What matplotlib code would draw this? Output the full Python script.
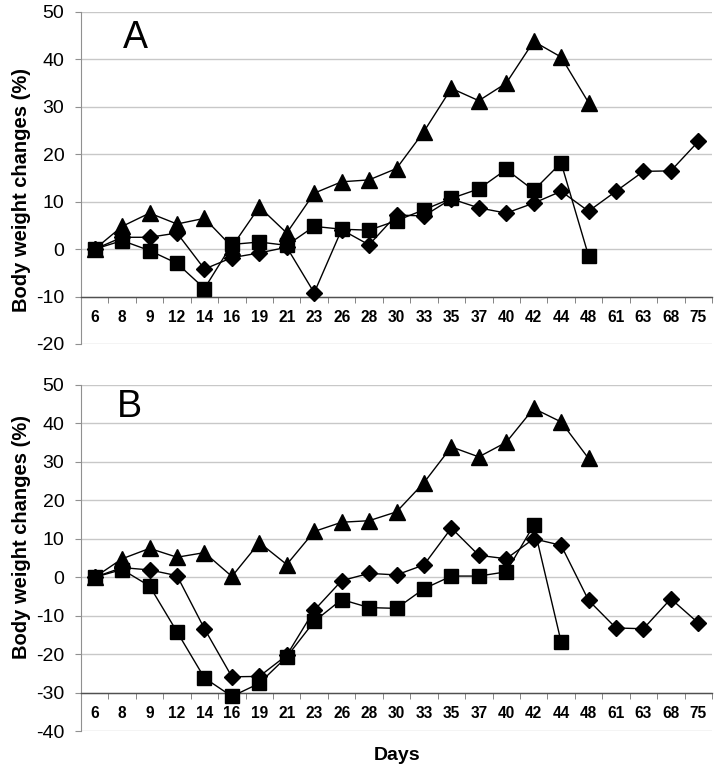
import numpy as np
import matplotlib
matplotlib.use("Agg")
import matplotlib.pyplot as plt

plt.rcParams["font.family"] = ["Liberation Sans", "DejaVu Sans"]
plt.rcParams["axes.unicode_minus"] = False

days = ["6", "8", "9", "12", "14", "16", "19", "21", "23", "26", "28", "30",
        "33", "35", "37", "40", "42", "44", "48", "61", "63", "68", "75"]

# panel A
a_diamond = [0, 2.5, 2.5, 3.4, -4.2, -1.8, -0.8, 0.4, -9.2, 4.1, 0.9, 7.2,
             7.0, 10.6, 8.7, 7.6, 9.7, 12.2, 8.0, 12.2, 16.4, 16.5, 22.7]
a_square = [0, 1.8, -0.3, -3.0, -8.3, 1.0, 1.5, 0.8, 4.8, 4.2, 4.0, 6.0,
            8.3, 10.7, 12.7, 16.8, 12.4, 18.2, -1.4]
a_triangle = [0, 4.8, 7.6, 5.3, 6.5, 0.5, 8.9, 3.4, 11.8, 14.2, 14.6, 17.0,
              24.8, 33.9, 31.3, 35.0, 43.8, 40.5, 30.9]

# panel B
b_diamond = [0, 2.5, 1.9, 0.4, -13.4, -25.9, -25.8, -20.3, -8.6, -0.9, 1.0, 0.6,
             3.2, 12.8, 5.7, 4.8, 10.0, 8.3, -6.0, -13.2, -13.4, -5.6, -11.9]
b_square = [0, 2.0, -2.3, -14.2, -26.2, -31.0, -27.6, -20.7, -11.5, -5.8, -7.9, -8.1,
            -3.0, 0.3, 0.3, 1.4, 13.5, -16.8]
b_triangle = [0, 4.8, 7.5, 5.2, 6.4, 0.2, 9.0, 3.3, 11.9, 14.3, 14.7, 17.0,
              24.6, 33.9, 31.3, 35.1, 43.9, 40.4, 30.9]

fig = plt.figure(figsize=(7.17, 7.71), dpi=100)
W, H = 717, 771


def make_panel(rect, ymin, ycross, diamond, square, triangle, letter, letter_xy, ylab_y):
    ax = fig.add_axes(rect)
    x = np.arange(len(days))
    ax.set_xlim(-0.5, len(days) - 0.5)
    ax.set_ylim(ymin, 50)
    ax.set_yticks(np.arange(ymin, 51, 10))
    for yv in np.arange(ymin, 51, 10):
        ax.axhline(yv, color="#c8c8c8", lw=1.0, zorder=0)

    ax.plot(x[:len(triangle)], triangle, color="black", lw=1.0, marker="^", ms=11, zorder=3)
    ax.plot(x[:len(square)], square, color="black", lw=1.0, marker="s", ms=10, zorder=4)
    ax.plot(x[:len(diamond)], diamond, color="black", lw=1.0, marker="D", ms=8.3, zorder=5)

    for s in ["top", "right"]:
        ax.spines[s].set_visible(False)
    ax.spines["left"].set_color("#909090")
    ax.spines["bottom"].set_position(("data", ycross))
    ax.spines["bottom"].set_color("#505050")
    ax.spines["bottom"].set_linewidth(1.0)

    ax.set_xticks(x)
    ax.set_xticklabels(days, fontweight="bold", fontsize=11.2)
    ax.set_xticks(np.arange(-0.5, len(days), 1.0), minor=True)
    ax.tick_params(axis="x", which="major", length=0, pad=10)
    ax.tick_params(axis="x", which="minor", length=4, color="#707070", direction="out")
    ax.tick_params(axis="y", labelsize=14, length=4, color="#909090", pad=8)
    ax.set_ylabel("Body weight changes (%)", fontweight="bold", fontsize=14.5)
    ax.yaxis.set_label_coords(-0.08, ylab_y)
    ax.text(letter_xy[0], letter_xy[1], letter, transform=fig.transFigure,
            fontsize=27, ha="center", va="center")
    return ax


make_panel([81 / W, 1 - 344 / H, 631 / W, 332 / H], -20, -10,
           a_diamond, a_square, a_triangle, "A", (135 / W, 1 - 38 / H), 0.464)
make_panel([81 / W, 1 - 731 / H, 631 / W, 346 / H], -40, -30,
           b_diamond, b_square, b_triangle, "B", (129 / W, 1 - 407 / H), 0.561)

fig.text(397 / W, 1 - 756 / H, "Days", fontweight="bold", fontsize=14,
         ha="center", va="center")

fig.savefig("out.png", dpi=100)
